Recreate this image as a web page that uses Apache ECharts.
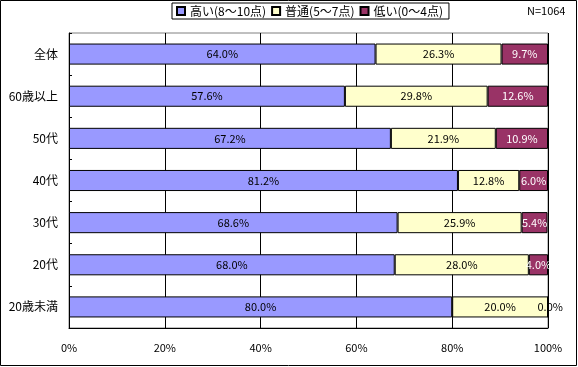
<!DOCTYPE html>
<html><head><meta charset="utf-8">
<script src="https://cdn.jsdelivr.net/npm/echarts@6/dist/echarts.min.js"></script>
<style>html,body{margin:0;padding:0;background:#fff}#c{width:578px;height:367px}</style>
</head><body><div id="c"></div>
<script>
const categories = ['全体', '60歳以上', '50代', '40代', '30代', '20代', '20歳未満'];
const seriesNames = ['高い(8～10点)', '普通(5～7点)', '低い(0～4点)'];
const high = [64.0, 57.6, 67.2, 81.2, 68.6, 68.0, 80.0];
const mid = [26.3, 29.8, 21.9, 12.8, 25.9, 28.0, 20.0];
const low = [9.7, 12.6, 10.9, 6.0, 5.4, 4.0, 0.0];
const xTicks = [0, 20, 40, 60, 80, 100];
const noteText = 'N=1064';

const FONT = '"Noto Sans CJK JP", "Noto Sans", sans-serif';
const colors = ['#9999FF', '#FFFFCC', '#993366'];
const labelColors = ['#000', '#000', '#fff'];
const chart = echarts.init(document.getElementById('c'));
const vals = [high, mid, low];
chart.setOption({
  animation: false,
  textStyle: { fontFamily: FONT },
  grid: { left: 69, right: 30, top: 33, bottom: 39, show: true, borderColor: '#808080', borderWidth: 1 },
  legend: {
    data: seriesNames, left: 172, top: 3, itemWidth: 8, itemHeight: 8, itemGap: 5,
    borderColor: '#000', borderWidth: 1, padding: [2, 6, 2, 4],
    textStyle: { fontSize: 12, color: '#000', fontFamily: FONT },
    icon: 'rect'
  },
  xAxis: {
    type: 'value', min: xTicks[0], max: xTicks[xTicks.length - 1], interval: 20,
    axisLine: { show: true, lineStyle: { color: '#000' } },
    axisTick: { show: false },
    axisLabel: { formatter: '{value}%', color: '#000', fontSize: 11, margin: 14 },
    splitLine: { show: true, lineStyle: { color: '#000' } }
  },
  yAxis: {
    type: 'category', data: categories, inverse: true,
    axisLine: { show: true, lineStyle: { color: '#000' } },
    axisTick: { show: true, inside: true, length: 3, lineStyle: { color: '#000' } },
    axisLabel: { color: '#000', fontSize: 12, margin: 11 }
  },
  series: seriesNames.map((n, i) => ({
    name: n, type: 'bar', stack: 'a', barCategoryGap: '50%',
    data: vals[i].map(v => v === 0
      ? { value: v, label: { position: 'right', distance: 0, offset: [-11, 0], color: '#000' } }
      : v),
    itemStyle: { color: colors[i], borderColor: '#000', borderWidth: 1 },
    label: { show: true, position: 'inside', color: labelColors[i], fontSize: 11,
      formatter: p => p.value.toFixed(1) + '%' }
  })),
  graphic: [
    { type: 'rect', shape: { x: 0.5, y: 0.5, width: 576, height: 365 }, style: { fill: null, stroke: '#000', lineWidth: 1 }, silent: true },
    { type: 'text', left: 527, top: 5, style: { text: noteText, fontSize: 11, fill: '#000', fontFamily: FONT } }
  ]
});
</script></body></html>
